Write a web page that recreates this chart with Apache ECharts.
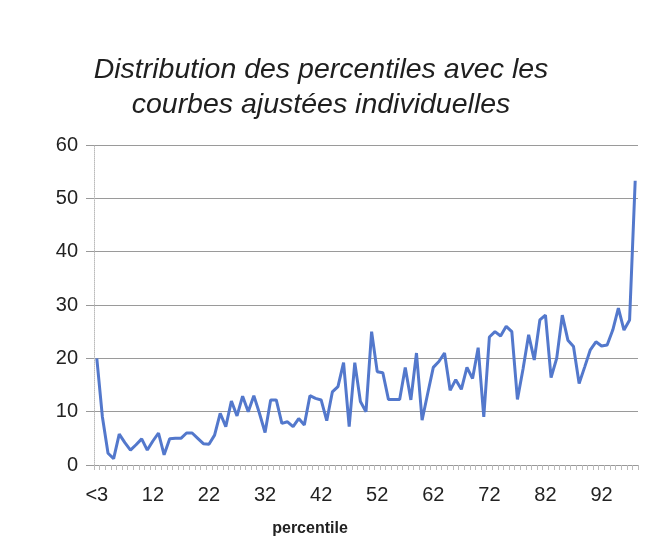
<!DOCTYPE html>
<html>
<head>
<meta charset="utf-8">
<script src="https://cdn.jsdelivr.net/npm/echarts@6/dist/echarts.min.js"></script>
<style>
  html, body { margin: 0; padding: 0; background: #fff; }
  #chart { width: 672px; height: 546px; }
</style>
</head>
<body>
<div id="chart"></div>
<script>
(function () {
  'use strict';

  // percentile categories: "<3", 3 ... 97, ">97"
  const categories = ['<3'];
  for (let p = 3; p <= 98; p++) categories.push(String(p));

  const values = [
    20, 9, 2.2, 1.2, 5.8, 4.2, 2.8, 3.8, 4.9, 2.8,
    4.5, 6, 1.9, 4.9, 5, 5, 6, 6, 5, 4,
    3.9, 5.6, 9.7, 7.2, 12, 9.2, 12.9, 10, 13, 9.7,
    6.1, 12.2, 12.2, 7.8, 8.1, 7.2, 8.7, 7.5, 13, 12.5,
    12.2, 8.3, 13.7, 14.7, 19.2, 7.2, 19.2, 11.9, 10, 25,
    17.5, 17.3, 12.3, 12.3, 12.3, 18.3, 12.2, 21, 8.4, 13.4,
    18.3, 19.4, 21, 14, 16, 14.2, 18.3, 16.2, 22, 9,
    24, 25, 24.2, 26, 25, 12.3, 18, 24.4, 19.7, 27.2,
    28.1, 16.4, 20, 28.1, 23.4, 22.2, 15.3, 18.4, 21.6, 23.1,
    22.3, 22.5, 25.3, 29.4, 25.3, 27.2, 53.3
  ];

  const titleText = 'Distribution des percentiles avec les\ncourbes ajustées individuelles';
  const xName = 'percentile';

  const fontFamily = '"Liberation Sans", Arial, sans-serif';
  const chart = echarts.init(document.getElementById('chart'));

  chart.setOption({
    backgroundColor: '#ffffff',
    animation: false,
    title: {
      text: titleText,
      left: 316,
      top: 48,
      textAlign: 'center',
      textStyle: {
        fontFamily,
        fontStyle: 'italic',
        fontWeight: 'normal',
        fontSize: 28.5,
        lineHeight: 35,
        color: '#1f1f1f',
      },
    },
    grid: { left: 94, right: 34, top: 145, bottom: 81 },
    xAxis: {
      type: 'category',
      data: categories,
      boundaryGap: true,
      name: xName,
      nameLocation: 'middle',
      nameGap: 56,
      nameTextStyle: {
        fontFamily,
        fontWeight: 'bold',
        fontSize: 16,
        color: '#222',
        padding: [0, 112, 0, 0],
      },
      axisLine: { lineStyle: { color: '#999', width: 1 } },
      axisTick: {
        show: true,
        interval: 0,
        length: 5,
        lineStyle: { color: '#bbb', width: 1 },
      },
      axisLabel: {
        interval: 9,
        margin: 20,
        fontFamily,
        fontSize: 20,
        color: '#222',
      },
    },
    yAxis: {
      type: 'value',
      min: 0,
      max: 60,
      interval: 10,
      axisLine: { show: true, lineStyle: { color: '#bbb', type: 'dotted', width: 1 } },
      axisTick: { show: true, length: 8, lineStyle: { color: '#999' } },
      axisLabel: {
        margin: 16,
        fontFamily,
        fontSize: 20,
        color: '#222',
      },
      splitLine: { lineStyle: { color: '#9a9a9a', width: 1 } },
    },
    series: [
      {
        type: 'line',
        data: values,
        showSymbol: false,
        smooth: false,
        lineStyle: { color: '#5378cc', width: 3 },
      },
    ],
  });
})();
</script>
</body>
</html>
